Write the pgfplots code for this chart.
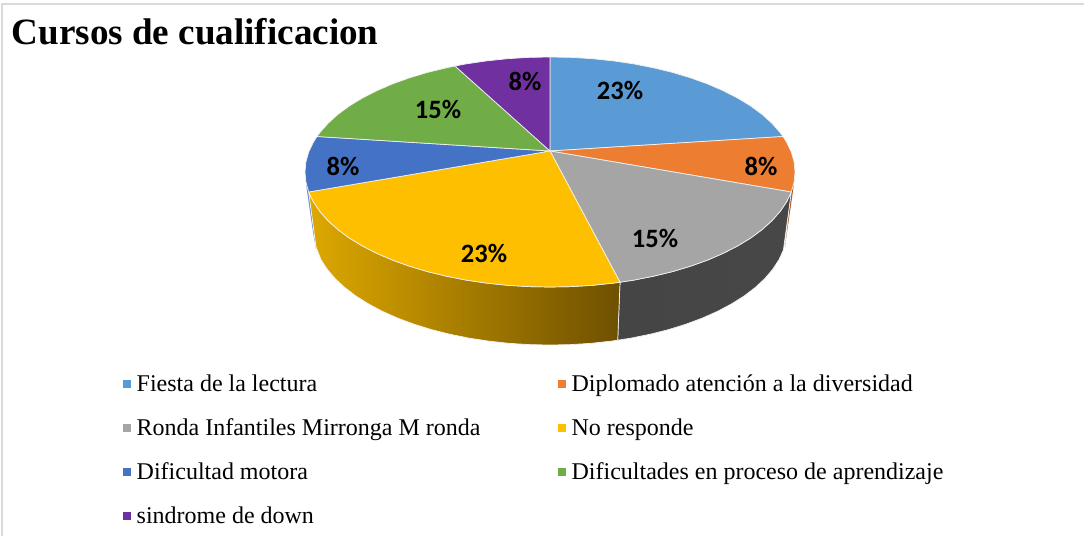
\documentclass[border=0pt]{standalone}
\usepackage{pgfplots}
\pgfplotsset{compat=1.18}
\usepackage{fontspec}
\setmainfont{Liberation Serif}
\newfontfamily\lab{Carlito}
\definecolor{cA}{HTML}{5B9BD5}
\definecolor{cB}{HTML}{ED7D31}
\definecolor{cC}{HTML}{A5A5A5}
\definecolor{cD}{HTML}{FDBF00}
\definecolor{cE}{HTML}{4472C4}
\definecolor{cF}{HTML}{70AD47}
\definecolor{cG}{HTML}{7030A0}
\definecolor{frame}{HTML}{D9D9D9}
\definecolor{edge}{HTML}{F2F2F2}
\begin{document}
\begin{tikzpicture}
\path[use as bounding box] (0,0) rectangle (1084pt,536pt);
\begin{axis}[
  at={(0,0)},anchor=south west,
  width=1084pt,height=536pt,scale only axis,
  xmin=0,xmax=1084,ymin=0,ymax=536,y dir=reverse,
  hide axis,clip=true,
  legend cell align=left,
  legend columns=2,
  legend style={draw=none,fill=none,at={(axis cs:123,373)},anchor=north west,
    font=\fontsize{24}{28}\selectfont,row sep=22.7pt,inner sep=0pt,
    /tikz/every odd column/.append style={column sep=5pt},
    /tikz/every even column/.append style={column sep=76pt},
    nodes={inner sep=1.5pt}},
]
\addlegendimage{only marks,mark=square*,mark size=3.5pt,cA,mark options={draw=none}}
\addlegendentry{Fiesta de la lectura}
\addlegendimage{only marks,mark=square*,mark size=3.5pt,cB,mark options={draw=none}}
\addlegendentry{Diplomado atención a la diversidad}
\addlegendimage{only marks,mark=square*,mark size=3.5pt,cC,mark options={draw=none}}
\addlegendentry{Ronda Infantiles Mirronga M ronda}
\addlegendimage{only marks,mark=square*,mark size=3.5pt,cD,mark options={draw=none}}
\addlegendentry{No responde}
\addlegendimage{only marks,mark=square*,mark size=3.5pt,cE,mark options={draw=none}}
\addlegendentry{Dificultad motora}
\addlegendimage{only marks,mark=square*,mark size=3.5pt,cF,mark options={draw=none}}
\addlegendentry{Dificultades en proceso de aprendizaje}
\addlegendimage{only marks,mark=square*,mark size=3.5pt,cG,mark options={draw=none}}
\addlegendentry{sindrome de down}
% frame
\addplot[forget plot,frame,line width=2pt] coordinates {(2,536)(2,4)(1084,4)};
% side walls
\addplot[forget plot,fill=cE!80!white,draw=none] coordinates {(308.7,192)(306,184)(313,232)(316,249)} -- cycle;
\addplot[forget plot,fill=cB!70!black,draw=none] coordinates {(791.3,192)(794,184)(787,232)(785,247)} -- cycle;
\addplot[forget plot,left color=black!73,right color=black!72,draw=edge,line width=0.7pt] coordinates {
 (791.3,192)(786.6,201.8)(780.2,211.3)(772,220.6)(762.2,229.5)(750.7,238)(737.7,245.9)(723.2,253.3)(707.5,260.1)(690.5,266.2)(672.5,271.6)(653.5,276.2)(633.8,280.1)(620,282.2)
 (617.7,340.2)(631.1,338.1)(650.2,334.2)(668.5,329.6)(685.9,324.2)(702.3,318.1)(717.6,311.3)(731.5,303.9)(744.1,296)(755.2,287.5)(764.8,278.6)(772.7,269.3)(778.9,259.8)(783.4,250)} -- cycle;
\addplot[forget plot,left color={rgb,255:red,222;green,168;blue,0},right color={rgb,255:red,110;green,80;blue,0},draw=edge,line width=0.7pt] coordinates {
 (620,282.2)(613.4,283.1)(592.5,285.3)(571.4,286.6)(550,287)(528.6,286.6)(507.5,285.3)(486.6,283.1)(466.2,280.1)(446.5,276.2)(427.5,271.6)(409.5,266.2)(392.5,260.1)(376.8,253.3)(362.3,245.9)(349.3,238)(337.8,229.5)(328,220.6)(319.8,211.3)(313.4,201.8)(308.7,192)
 (316,247)(321.1,259.8)(327.3,269.3)(335.2,278.6)(344.8,287.5)(355.9,296)(368.5,303.9)(382.4,311.3)(397.7,318.1)(414.1,324.2)(431.5,329.6)(449.8,334.2)(468.9,338.1)(488.7,341.1)(508.8,343.3)(529.3,344.6)(550,345)(570.7,344.6)(591.2,343.3)(611.3,341.1)(617.7,340.2)} -- cycle;
% top wedges
\addplot[forget plot,fill=cA,draw=edge,line width=0.7pt] coordinates {(550,151)(550,57)(571.4,57.4)(592.5,58.7)(613.4,60.9)(633.8,63.9)(653.5,67.8)(672.5,72.4)(690.5,77.8)(707.5,83.9)(723.2,90.7)(737.7,98.1)(750.7,106)(762.2,114.5)(772,123.4)(780.2,132.7)(783,136.5)} -- cycle;
\addplot[forget plot,fill=cB,draw=edge,line width=0.7pt] coordinates {(550,151)(783,136.5)(786.6,142.2)(791.3,152)(794.1,162)(795,172)(794.1,182)(791.3,192)} -- cycle;
\addplot[forget plot,fill=cC,draw=edge,line width=0.7pt] coordinates {(550,151)(791.3,192)(786.6,201.8)(780.2,211.3)(772,220.6)(762.2,229.5)(750.7,238)(737.7,245.9)(723.2,253.3)(707.5,260.1)(690.5,266.2)(672.5,271.6)(653.5,276.2)(633.8,280.1)(620,282.2)} -- cycle;
\addplot[forget plot,fill=cD,draw=edge,line width=0.7pt] coordinates {(550,151)(620,282.2)(613.4,283.1)(592.5,285.3)(571.4,286.6)(550,287)(528.6,286.6)(507.5,285.3)(486.6,283.1)(466.2,280.1)(446.5,276.2)(427.5,271.6)(409.5,266.2)(392.5,260.1)(376.8,253.3)(362.3,245.9)(349.3,238)(337.8,229.5)(328,220.6)(319.8,211.3)(313.4,201.8)(308.7,192)} -- cycle;
\addplot[forget plot,fill=cE,draw=edge,line width=0.7pt] coordinates {(550,151)(308.7,192)(305.9,182)(305,172)(305.9,162)(308.7,152)(313.4,142.2)(317,136.5)} -- cycle;
\addplot[forget plot,fill=cF,draw=edge,line width=0.7pt] coordinates {(550,151)(317,136.5)(319.8,132.7)(328,123.4)(337.8,114.5)(349.3,106)(362.3,98.1)(376.8,90.7)(392.5,83.9)(409.5,77.8)(427.5,72.4)(446.5,67.8)(455,66)} -- cycle;
\addplot[forget plot,fill=cG,draw=edge,line width=0.7pt] coordinates {(550,151)(455,66)(466.2,63.9)(486.6,60.9)(507.5,58.7)(528.6,57.4)(550,57)} -- cycle;
% labels
\tikzset{pct/.style={font=\lab\bfseries\fontsize{26.5}{28}\selectfont,inner sep=0pt,text=black}}
\node[pct] at (axis cs:620,90) {23\%};
\node[pct] at (axis cs:761,166) {8\%};
\node[pct] at (axis cs:655,238) {15\%};
\node[pct] at (axis cs:484,253) {23\%};
\node[pct] at (axis cs:343,166) {8\%};
\node[pct] at (axis cs:438,109) {15\%};
\node[pct] at (axis cs:525,81) {8\%};
\node[anchor=base west,inner sep=0pt,font=\bfseries\fontsize{37.1}{40}\selectfont] at (axis cs:11.5,44) {Cursos de cualificacion};
\end{axis}
\end{tikzpicture}
\end{document}
